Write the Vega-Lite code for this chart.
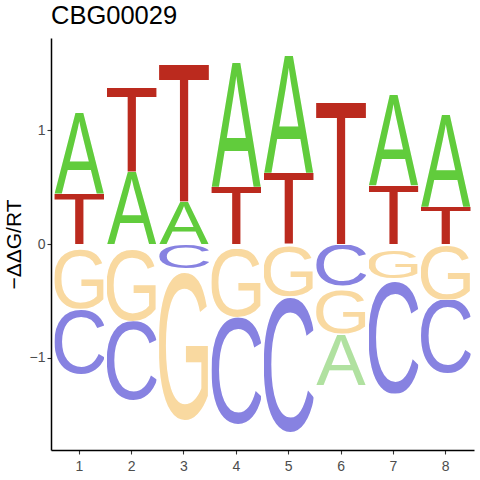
{
  "$schema": "https://vega.github.io/schema/vega-lite/v6.json",
  "autosize": "none",
  "width": 423,
  "height": 412,
  "padding": {"left": 51, "top": 38, "right": 6, "bottom": 30},
  "background": "white",
  "title": {
    "text": "CBG00029",
    "anchor": "start",
    "frame": "group",
    "font": "Liberation Sans",
    "fontSize": 25.5,
    "fontWeight": "normal",
    "color": "black",
    "baseline": "alphabetic",
    "offset": -11
  },
  "config": {
    "view": {"stroke": null},
    "font": "Liberation Sans",
    "axis": {
      "grid": false,
      "domainColor": "black",
      "domainWidth": 1.5,
      "tickColor": "#333333",
      "tickWidth": 1.1,
      "tickSize": 4,
      "labelColor": "#4D4D4D",
      "labelFont": "Liberation Sans",
      "labelFontSize": 14,
      "titleFont": "Liberation Sans",
      "titleFontWeight": "normal",
      "titleColor": "black"
    }
  },
  "data": {
    "values": [
      {"pos": 1, "letter": "T", "lo": 0, "hi": 0.44},
      {"pos": 1, "letter": "A", "lo": 0.44, "hi": 1.15},
      {"pos": 2, "letter": "A", "lo": 0, "hi": 0.636},
      {"pos": 2, "letter": "T", "lo": 0.636, "hi": 1.375},
      {"pos": 3, "letter": "A", "lo": 0, "hi": 0.372},
      {"pos": 3, "letter": "T", "lo": 0.372, "hi": 1.574},
      {"pos": 4, "letter": "T", "lo": 0, "hi": 0.504},
      {"pos": 4, "letter": "A", "lo": 0.504, "hi": 1.595},
      {"pos": 5, "letter": "T", "lo": 0, "hi": 0.627},
      {"pos": 5, "letter": "A", "lo": 0.627, "hi": 1.656},
      {"pos": 6, "letter": "T", "lo": 0, "hi": 1.243},
      {"pos": 7, "letter": "T", "lo": 0, "hi": 0.513},
      {"pos": 7, "letter": "A", "lo": 0.513, "hi": 1.313},
      {"pos": 8, "letter": "T", "lo": 0, "hi": 0.328},
      {"pos": 8, "letter": "A", "lo": 0.328, "hi": 1.137},
      {"pos": 1, "letter": "G", "lo": -0.569, "hi": -0.044},
      {"pos": 1, "letter": "C", "lo": -1.143, "hi": -0.569},
      {"pos": 2, "letter": "G", "lo": -0.678, "hi": -0.053},
      {"pos": 2, "letter": "C", "lo": -1.372, "hi": -0.678},
      {"pos": 3, "letter": "C", "lo": -0.214, "hi": -0.009},
      {"pos": 3, "letter": "G", "lo": -1.548, "hi": -0.244},
      {"pos": 4, "letter": "G", "lo": -0.643, "hi": -0.044},
      {"pos": 4, "letter": "C", "lo": -1.586, "hi": -0.643},
      {"pos": 5, "letter": "G", "lo": -0.46, "hi": -0.018},
      {"pos": 5, "letter": "C", "lo": -1.651, "hi": -0.46},
      {"pos": 6, "letter": "C", "lo": -0.369, "hi": -0.009},
      {"pos": 6, "letter": "G", "lo": -0.792, "hi": -0.405},
      {"pos": 6, "letter": "A", "lo": -1.24, "hi": -0.8},
      {"pos": 7, "letter": "G", "lo": -0.3, "hi": -0.053},
      {"pos": 7, "letter": "C", "lo": -1.313, "hi": -0.33},
      {"pos": 8, "letter": "G", "lo": -0.488, "hi": -0.01},
      {"pos": 8, "letter": "C", "lo": -1.137, "hi": -0.488}
    ]
  },
  "encoding": {
    "x": {
      "field": "pos",
      "type": "ordinal",
      "scale": {"paddingInner": 0.05, "paddingOuter": 0.065},
      "axis": {"title": null, "labelAngle": 0, "labelPadding": 5}
    }
  },
  "layer": [
    {
      "mark": {"type": "image", "aspect": false},
      "encoding": {
        "y": {
          "field": "hi",
          "type": "quantitative",
          "scale": {"domain": [-1.81, 1.81], "nice": false, "zero": false},
          "axis": {"title": "−ΔΔG/RT", "titleFontSize": 21, "titlePadding": 5, "values": [-1, 0, 1], "format": "d", "labelPadding": 2}
        },
        "y2": {"field": "lo"},
        "url": {
          "condition": [
            {"test": "datum.letter === 'A' && datum.hi > 0", "value": "data:image/svg+xml;charset=utf-8,%3Csvg%20xmlns='http://www.w3.org/2000/svg'%20viewBox='-0.2%20-68.8%2067.1%2068.8'%20preserveAspectRatio='none'%3E%3Ctext%20font-family='Liberation%20Sans'%20font-size='100'%20fill='%2361CC3C'%3EA%3C/text%3E%3C/svg%3E"},
            {"test": "datum.letter === 'A'", "value": "data:image/svg+xml;charset=utf-8,%3Csvg%20xmlns='http://www.w3.org/2000/svg'%20viewBox='-0.2%20-68.8%2067.1%2068.8'%20preserveAspectRatio='none'%3E%3Ctext%20font-family='Liberation%20Sans'%20font-size='100'%20fill='%23B0E1A0'%3EA%3C/text%3E%3C/svg%3E"},
            {"test": "datum.letter === 'T'", "value": "data:image/svg+xml;charset=utf-8,%3Csvg%20xmlns='http://www.w3.org/2000/svg'%20viewBox='2.4%20-68.8%2056.1%2068.8'%20preserveAspectRatio='none'%3E%3Ctext%20font-family='Liberation%20Sans'%20font-size='100'%20fill='%23BB2A1E'%3ET%3C/text%3E%3C/svg%3E"},
            {"test": "datum.letter === 'C'", "value": "data:image/svg+xml;charset=utf-8,%3Csvg%20xmlns='http://www.w3.org/2000/svg'%20viewBox='5%20-70.1%2062.7%2071.3'%20preserveAspectRatio='none'%3E%3Ctext%20font-family='Liberation%20Sans'%20font-size='100'%20fill='%238782E1'%3EC%3C/text%3E%3C/svg%3E"}
          ],
          "value": "data:image/svg+xml;charset=utf-8,%3Csvg%20xmlns='http://www.w3.org/2000/svg'%20viewBox='5.3%20-70.1%2066.2%2071.3'%20preserveAspectRatio='none'%3E%3Ctext%20font-family='Liberation%20Sans'%20font-size='100'%20fill='%23F9D9A0'%3EG%3C/text%3E%3C/svg%3E"
        }
      }
    },
    {
      "mark": {"type": "rule", "color": "black", "strokeWidth": 1},
      "encoding": {"y": {"datum": 0}}
    }
  ]
}
